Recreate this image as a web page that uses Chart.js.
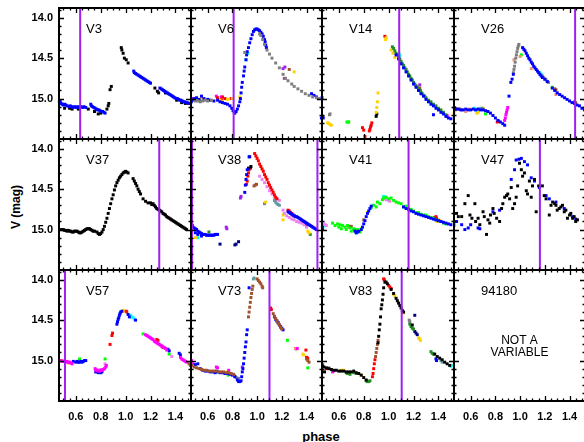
<!DOCTYPE html>
<html>
<head>
<meta charset="utf-8">
<script src="https://cdn.jsdelivr.net/npm/chart.js@4.4.0/dist/chart.umd.min.js"></script>
<style>
  body { margin: 0; background: #fff; }
  #wrap { position: relative; width: 584px; height: 442px; overflow: hidden; background: #fff;
          font-family: "Liberation Sans", Arial, sans-serif; }
  #wrap canvas { position: absolute; }
  .ax { position: absolute; font-weight: bold; color: #000; white-space: nowrap; }
</style>
</head>
<body>
<div id="wrap">
  <div class="ax" id="ylab" style="font-size:12px;left:16px;top:207px;transform:translate(-50%,-50%) rotate(-90deg);">V (mag)</div>
  <div class="ax" id="xlab" style="font-size:13px;left:321px;top:436px;transform:translate(-50%,-50%);">phase</div>
</div>
<script>
// axes shared by every panel
const xMin = 0.465, xMax = 1.525;
const yMin = 13.88, yMax = 15.5;
const xTickVals = [0.6, 0.8, 1.0, 1.2, 1.4];
const yTickVals = [14.0, 14.5, 15.0];

const panelNames = ['V3', 'V6', 'V14', 'V26', 'V37', 'V38', 'V41', 'V47', 'V57', 'V73', 'V83', '94180'];
const markPhases = [[0.635], [0.81], [1.085], [1.445], [1.27], [0.473, 1.488], [1.16], [1.16], [0.513], [1.10], [1.105], []];

// ---- V3
const v3Blue = [[0.468,15.04],[0.475,15.03],[0.482,15.06],[0.49,15.07],[0.50,15.08],[0.51,15.07],[0.52,15.08],[0.53,15.09],[0.545,15.10],[0.555,15.09],[0.565,15.10],[0.575,15.11],[0.59,15.10],[0.60,15.11],[0.615,15.10],[0.625,15.11],[0.64,15.10],[0.655,15.11],[0.665,15.10],[0.68,15.11],
  [0.72,15.07],[0.725,15.09],[0.735,15.10],[0.745,15.11],[0.755,15.12],[0.765,15.13],[0.775,15.14],[0.785,15.14],[0.795,15.15],[0.805,15.16],[0.815,15.16],[0.825,15.17],[0.835,15.18],
  [1.065,14.66],[1.07,14.68],[1.08,14.69],[1.09,14.70],[1.10,14.71],[1.11,14.72],[1.12,14.73],[1.13,14.74],[1.14,14.75],[1.15,14.76],[1.16,14.77],[1.17,14.78],[1.18,14.79],[1.19,14.80],[1.20,14.81],
  [1.275,14.87],[1.285,14.88],[1.295,14.89],[1.305,14.90],[1.315,14.91],[1.325,14.92],[1.335,14.93],[1.345,14.94],[1.355,14.95],[1.365,14.96],[1.375,14.97],[1.385,14.98],[1.395,14.99],[1.405,15.00],[1.415,15.00],[1.425,15.01],[1.435,15.02],[1.445,15.02],[1.455,15.03],[1.465,15.04],[1.475,15.04],[1.485,15.05],[1.495,15.05],[1.505,15.06],[1.515,15.06]];
const v3Black = [[0.51,15.12],[0.55,15.12],[0.57,15.13],[0.62,15.13],[0.63,15.12],[0.70,15.13],[0.75,15.16],[0.78,15.19],[0.80,15.18],[0.85,15.13],[0.86,15.09],[0.865,15.06],[0.875,14.89],[0.885,14.85],[0.965,14.37],[0.97,14.40],[0.98,14.44],[0.99,14.50],[1.005,14.52],[1.02,14.56],[1.235,14.87],[1.255,14.91],[1.265,14.93],[1.32,14.93],[1.41,15.02],[1.45,15.05],[1.48,15.06]];

// ---- V6
const v6Blue = [[0.468,15.04],[0.475,15.02],[0.49,15.00],[0.51,14.99],[0.53,15.01],[0.55,14.97],[0.57,15.00],[0.60,15.01],[0.62,15.02],[0.65,15.03],[0.68,15.02],[0.70,15.04],[0.72,15.05],[0.74,15.06],[0.76,15.07],[0.78,15.09],[0.795,15.12],[0.805,15.15],[0.815,15.17],[0.82,15.18],[0.83,15.16],[0.84,15.13],[0.85,15.09],[0.86,15.04],[0.865,15.00],[0.87,14.93],[0.875,14.86],[0.88,14.80],[0.89,14.72],[0.895,14.66],[0.90,14.61],[0.91,14.52],[0.915,14.46],[0.92,14.42],[0.93,14.37],[0.94,14.31],[0.95,14.26],[0.96,14.21],[0.97,14.17],[0.98,14.15],[0.99,14.14],[1.00,14.14],[1.01,14.15],[1.02,14.16],[1.03,14.18],[1.04,14.20],[1.05,14.23],[1.06,14.27],[1.065,14.30],[1.07,14.34],[1.075,14.37],[1.44,14.94],[1.46,14.96],[1.48,14.98],[1.52,15.24]];
const v6Gray = [[0.50,15.03],[0.52,15.03],[0.54,15.04],[0.56,15.03],[0.58,15.02],[0.60,15.03],[0.63,15.02],[0.90,14.43],[1.02,14.20],[1.03,14.22],[1.045,14.27],[1.06,14.33],[1.08,14.40],[1.10,14.45],[1.12,14.50],[1.15,14.56],[1.18,14.62],[1.21,14.70],[1.23,14.75],[1.25,14.78],[1.28,14.82],[1.30,14.85],[1.33,14.88],[1.36,14.91],[1.39,14.94],[1.42,14.96],[1.45,14.98],[1.48,14.99],[1.50,15.00]];
const v6Yellow = [[0.51,15.00],[0.55,15.00],[0.57,15.01],[0.70,15.02],[0.72,15.04],[0.76,15.01],[0.80,15.00],[0.86,14.98],[1.30,14.67]];
const v6Red = [[0.68,14.99],[0.71,15.01],[0.72,14.98],[0.74,15.00],[0.79,15.00]];
const v6Magenta = [[0.47,15.00],[0.67,14.97],[0.71,14.98],[1.22,14.75]];
const v6Cyan = [[0.91,14.52],[0.925,14.44]];
const v6Violet = [[1.21,14.63],[1.225,14.61]];
const v6Brown = [[1.26,14.64]];
const v6Green = [[0.55,15.02]];

// ---- V14
const v14Green = [[1.03,14.36],[1.04,14.38],[1.05,14.41],[1.06,14.44],[1.07,14.46],[1.08,14.49],[1.09,14.51],[1.10,14.54],[1.11,14.57],[1.12,14.59],[1.13,14.62],[1.14,14.64],[1.15,14.67],[1.16,14.70],[1.17,14.72],[1.18,14.75],[1.19,14.77],[1.20,14.80],[1.21,14.82],[1.22,14.84],[1.23,14.86],[1.24,14.88],[1.25,14.90],[1.26,14.92],[1.27,14.94],[1.28,14.96],[1.29,14.97],[1.30,14.99],[1.32,15.02],[1.34,15.04],[1.36,15.07],[1.38,15.09],[1.40,15.12],[1.42,15.14],[1.44,15.17],[1.46,15.20]];
const v14Blue = [[0.465,14.99],[0.47,15.22],[0.475,15.24],[1.06,14.46],[1.08,14.51],[1.10,14.57],[1.12,14.62],[1.14,14.67],[1.16,14.72],[1.18,14.77],[1.20,14.82],[1.22,14.86],[1.24,14.90],[1.26,14.94],[1.28,14.97],[1.30,15.01],[1.32,15.04],[1.34,15.07],[1.36,15.09],[1.38,15.12],[1.40,15.14],[1.42,15.17],[1.44,15.19],[1.46,15.22],[1.48,15.24],[1.50,15.25],[1.36,15.20]];
const v14Yellow = [[0.51,15.30],[0.52,15.31],[0.53,15.32],[0.54,15.33],[0.90,15.17],[0.905,15.11],[0.91,15.04],[0.915,14.93],[0.975,14.27],[0.98,14.25],[1.02,14.40],[1.035,14.44],[1.05,14.49]];
const v14Red = [[0.79,15.36],[0.80,15.39],[0.81,15.47],[0.845,15.40],[0.85,15.38],[0.855,15.35],[0.86,15.33],[0.865,15.30],[0.97,14.23]];
const v14Black = [[0.90,15.22],[0.905,15.19]];
const v14Gray = [[0.525,15.20],[0.53,15.19]];
const v14Lime = [[0.665,15.29],[0.675,15.29],[0.68,15.29]];
const v14Cyan = [[1.085,14.45],[1.09,14.47]];
const v14Brown = [[1.245,14.88],[1.25,14.87],[1.255,14.90]];
const v14Violet = [[1.25,14.83]];
const v14Magenta = [[1.465,15.22],[1.47,15.21]];

// ---- V26
const v26Blue = [[0.468,15.12],[0.48,15.13],[0.50,15.13],[0.52,15.14],[0.54,15.14],[0.56,15.13],[0.58,15.14],[0.60,15.14],[0.62,15.13],[0.64,15.14],[0.66,15.13],[0.68,15.14],[0.70,15.14],[0.72,15.15],[0.74,15.16],[0.76,15.18],[0.78,15.21],[0.80,15.24],[0.82,15.27],[0.84,15.29],[0.86,15.31],[0.875,15.33],[0.91,14.97],[0.925,14.80],[0.935,14.76],[0.945,14.70],
  [1.02,14.37],[1.03,14.39],[1.04,14.41],[1.05,14.44],[1.06,14.47],[1.07,14.50],[1.08,14.52],[1.09,14.55],[1.10,14.57],[1.11,14.60],[1.12,14.62],[1.13,14.64],[1.14,14.66],[1.15,14.68],[1.16,14.70],[1.17,14.72],[1.18,14.74],[1.20,14.76],[1.22,14.79],
  [1.26,14.87],[1.28,14.90],[1.30,14.93],[1.32,14.95],[1.34,14.97],[1.36,14.99],[1.38,15.01],[1.40,15.03],[1.42,15.05],[1.44,15.06],[1.46,15.08],[1.48,15.09],[1.50,15.12],[1.52,15.14]];
const v26Gray = [[0.945,14.68],[0.95,14.64],[0.955,14.60],[0.96,14.55],[0.965,14.50],[0.97,14.46],[0.975,14.42],[0.98,14.38],[0.985,14.35],[0.99,14.33],[0.69,15.12],[0.70,15.13],[1.18,14.72],[1.19,14.74],[1.20,14.76],[1.21,14.77],[1.22,14.79],[1.23,14.80]];
const v26Magenta = [[0.875,15.27],[0.88,15.24],[0.885,15.20],[0.89,15.17],[0.895,15.14],[0.90,15.11]];
const v26Brown = [[0.468,15.11],[0.475,15.14],[0.51,15.13],[1.28,14.88],[1.29,14.89],[1.44,15.04],[1.45,15.05],[1.52,15.12]];
const v26Salmon = [[0.53,15.14],[0.56,15.16],[0.59,15.13],[0.95,14.52],[1.00,14.48],[1.09,14.63],[1.29,14.95],[1.30,14.93]];
const v26Cyan = [[0.63,15.12],[0.64,15.14],[0.66,15.13],[0.68,15.12],[1.16,14.68],[1.17,14.70]];
const v26Yellow = [[0.465,15.18],[0.65,15.18],[0.66,15.17],[0.70,15.12]];
const v26Red = [[0.815,15.29],[0.825,15.28]];
const v26Green = [[0.72,15.19],[1.01,14.46],[1.26,14.86]];

// ---- V37
const v37Black = [[0.485,15.00],[0.50,15.00],[0.51,15.01],[0.52,15.01],[0.53,15.02],[0.54,15.01],[0.55,15.02],[0.56,15.02],[0.57,15.03],[0.58,15.03],[0.59,15.02],[0.60,15.02],[0.61,15.02],[0.62,15.03],[0.63,15.04],[0.64,15.04],[0.65,15.03],[0.66,15.02],[0.67,15.01],[0.68,15.00],[0.69,14.99],[0.70,14.99],[0.71,14.99],[0.72,15.00],[0.73,15.01],[0.74,15.02],[0.75,15.02],[0.77,15.03],[0.78,15.05],[0.79,15.06],[0.80,15.05],[0.81,15.03],[0.82,15.00],[0.83,14.96],[0.84,14.91],[0.85,14.86],[0.86,14.80],[0.87,14.74],[0.88,14.68],[0.89,14.62],[0.90,14.57],[0.91,14.51],[0.92,14.46],[0.93,14.42],[0.94,14.39],[0.95,14.36],[0.96,14.34],[0.97,14.32],[0.98,14.30],[0.99,14.29],[1.00,14.28],[1.01,14.29],[1.02,14.30],
  [1.06,14.37],[1.07,14.40],[1.08,14.43],[1.09,14.46],[1.10,14.50],[1.11,14.53],[1.12,14.56],[1.14,14.62],[1.16,14.65],[1.18,14.67],[1.20,14.67],[1.21,14.69],[1.22,14.68],[1.23,14.70],[1.24,14.72],[1.25,14.74],[1.26,14.75],[1.27,14.76],[1.28,14.77],[1.29,14.78],[1.30,14.80],[1.31,14.81],[1.32,14.82],[1.33,14.84],[1.34,14.85],[1.35,14.86],[1.36,14.87],[1.37,14.88],[1.38,14.89],[1.39,14.90],[1.40,14.91],[1.41,14.92],[1.42,14.93],[1.43,14.94],[1.44,14.95],[1.45,14.96],[1.46,14.97],[1.47,14.98],[1.48,14.99],[1.49,15.00]];

// ---- V38
const v38Blue = [[0.47,14.93],[0.475,14.95],[0.48,14.97],[0.49,14.98],[0.50,14.99],[0.51,15.00],[0.52,15.02],[0.53,15.03],[0.54,15.04],[0.55,15.05],[0.56,15.06],[0.57,15.06],[0.58,15.06],[0.59,15.07],[0.60,15.07],[0.61,15.07],[0.62,15.07],[0.63,15.07],[0.64,15.07],[0.65,15.07],[0.66,15.06],[0.67,15.06],[0.68,15.06],[0.50,15.04],[0.52,15.06],[0.55,15.08],
  [0.90,14.54],[0.905,14.45],[0.91,14.38],[0.915,14.32],[0.92,14.26],[0.935,14.10],
  [1.25,14.78],[1.26,14.79],[1.27,14.80],[1.28,14.81],[1.29,14.82],[1.30,14.83],[1.31,14.84],[1.32,14.84],[1.33,14.85],[1.34,14.86],[1.35,14.87],[1.36,14.88],[1.37,14.89],[1.38,14.90],[1.39,14.91],[1.40,14.92],[1.41,14.93],[1.42,14.94],[1.43,14.95],[1.44,14.96],[1.45,14.97],[1.46,14.98],[1.47,14.99],[1.48,15.00]];
const v38Navy = [[0.70,15.18],[0.82,15.19],[0.83,15.18],[0.85,15.15],[0.94,14.10],[0.93,14.24]];
const v38Red = [[0.915,14.44],[0.92,14.40],[0.925,14.34],[0.93,14.30],[0.935,14.26],[0.98,14.06],[0.99,14.09],[1.00,14.12],[1.01,14.15],[1.02,14.19],[1.03,14.22],[1.04,14.25],[1.05,14.28],[1.06,14.32],[1.07,14.35],[1.08,14.38],[1.09,14.42],[1.10,14.45],[1.11,14.48],[1.12,14.51],[1.13,14.54],[1.14,14.57],[1.15,14.60],[1.16,14.62],[1.25,14.76],[1.26,14.77],[1.27,14.79],[1.28,14.80],[1.29,14.82],[1.30,14.83]];
const v38Pink = [[1.02,14.34],[1.04,14.38],[1.06,14.42],[1.08,14.47],[1.10,14.52],[1.12,14.56],[1.14,14.60],[1.16,14.62],[1.18,14.64],[1.21,14.76],[1.22,14.80],[1.24,14.83],[1.26,14.85],[1.28,14.87],[1.30,14.88],[1.32,14.90],[1.34,14.91],[1.36,14.92],[1.38,14.94],[1.40,14.97]];
const v38Violet = [[0.75,14.97],[0.755,14.99],[0.865,14.61],[0.87,14.59]];
const v38Teal = [[1.14,14.64],[1.15,14.66],[1.16,14.68],[1.17,14.69],[1.18,14.70]];
const v38Brown = [[0.975,14.46],[0.985,14.45],[0.995,14.44],[1.39,14.93],[1.40,14.95]];
const v38Yellow = [[0.50,15.10],[1.07,14.66],[1.21,14.82],[1.21,14.88],[1.41,15.02],[1.42,15.04]];
const v38Green = [[0.61,15.03],[1.43,15.06]];
const v38Cyan = [[0.52,15.10]];
const v38Gray = [[1.06,14.68]];
const v38Black = [[0.95,14.22],[0.945,14.24]];

// ---- V41
const v41Lime = [[0.55,14.92],[0.57,14.95],[0.59,14.93],[0.60,14.97],[0.61,14.94],[0.62,14.99],[0.63,14.95],[0.65,14.97],[0.66,15.00],[0.67,14.95],[0.69,14.98],[0.70,15.02],[0.72,14.99],[0.74,15.04],[0.75,15.00],[0.77,15.03],[0.78,14.99],[0.86,14.73],[0.88,14.70],[0.90,14.72],[0.91,14.66],[0.93,14.68],[0.95,14.63],[0.96,14.61],[0.98,14.60],[1.00,14.62],[1.02,14.61],[1.04,14.64],[1.06,14.66],[1.08,14.67],[1.10,14.68],[1.12,14.72],[1.14,14.71],[1.16,14.74],[1.18,14.75],[1.20,14.77],[1.22,14.79],[1.24,14.79],[1.26,14.81],[1.28,14.82],[1.30,14.82],[1.32,14.84],[1.34,14.85],[1.36,14.86],[1.38,14.88],[1.40,14.89],[1.42,14.90],[1.44,14.92],[1.46,14.93]];
const v41Blue = [[0.468,14.97],[0.47,15.00],[0.73,15.02],[0.74,15.04],[0.75,15.03],[0.76,15.02],[0.78,15.00],[0.79,14.97],[0.80,14.93],[0.81,14.89],[0.82,14.84],[0.83,14.80],[0.84,14.77],[0.85,14.74],[0.86,14.71],[1.12,14.72],[1.14,14.74],[1.16,14.75],[1.18,14.77],[1.20,14.78],[1.22,14.80],[1.24,14.81],[1.26,14.82],[1.28,14.83],[1.30,14.84],[1.32,14.85],[1.34,14.86],[1.36,14.87],[1.38,14.88],[1.40,14.89],[1.42,14.90],[1.44,14.91],[1.46,14.92],[1.48,14.93],[1.50,14.94]];
const v41Pink = [[0.48,14.93],[0.49,14.94],[0.50,14.95],[0.97,14.62],[0.98,14.63],[1.00,14.64],[1.01,14.65]];
const v41Cyan = [[0.47,14.94],[0.475,14.96],[0.96,14.59],[0.965,14.61],[0.97,14.60]];
const v41Brown = [[0.68,14.96],[0.69,14.97],[0.70,14.96],[0.80,14.88]];
const v41Teal = [[0.72,15.00],[0.73,15.01],[0.735,15.00]];
const v41Red = [[1.37,14.85],[1.38,14.84],[1.385,14.86]];
const v41Yellow = [[1.39,14.90],[0.83,14.79]];
const v41Orange = [[1.40,14.88],[1.41,14.89]];

// ---- V47
const v47Black = [[0.486,14.80],[0.50,14.84],[0.527,14.84],[0.553,14.68],[0.58,14.58],[0.594,14.82],[0.61,14.86],[0.634,14.68],[0.64,14.90],[0.66,14.86],[0.674,14.94],[0.70,14.78],[0.71,14.84],[0.728,15.06],[0.74,14.88],[0.754,14.92],[0.76,14.82],[0.78,14.74],[0.79,14.80],[0.81,14.86],[0.834,14.90],[0.85,14.74],[0.86,14.68],[0.875,14.60],[0.89,14.58],[0.90,14.56],[0.915,14.62],[0.928,14.48],[0.94,14.74],[0.955,14.68],[0.968,14.60],[0.98,14.46],[0.995,14.18],[1.01,14.26],[1.02,14.34],[1.035,14.30],[1.05,14.52],[1.06,14.56],[1.075,14.40],[1.09,14.60],[1.10,14.46],[1.116,14.38],[1.13,14.78],[1.15,14.46],[1.18,14.46],[1.195,14.58],[1.21,14.62],[1.236,14.82],[1.25,14.70],[1.263,14.66],[1.28,14.68],[1.29,14.70],[1.30,14.76],[1.316,14.74],[1.33,14.72],[1.343,14.70],[1.357,14.78],[1.37,14.76],[1.383,14.86],[1.40,14.82],[1.41,14.80],[1.425,14.86],[1.437,14.84],[1.45,14.90],[1.464,14.88]];
const v47Blue = [[0.486,14.90],[0.527,14.94],[0.553,15.00],[0.58,14.98],[0.60,14.94],[0.66,14.98],[0.674,14.99],[0.78,14.78],[0.834,14.76],[0.928,14.38],[0.955,14.26],[0.968,14.14],[0.99,14.13],[1.01,14.12],[1.035,14.16],[1.06,14.20],[1.09,14.36],[1.116,14.40],[1.156,14.48],[1.21,14.58],[1.236,14.62],[1.29,14.66],[1.357,14.74],[1.424,14.84],[1.45,14.87]];
const v47Cyan = [[0.468,14.92],[0.47,14.95]];

// ---- V57
const v57Magenta = [[0.47,15.00],[0.48,15.00],[0.49,15.01],[0.50,15.01],[0.51,15.01],[0.52,15.02],[0.53,15.01],[0.54,15.02],[0.55,15.02],[0.56,15.03],[0.57,15.04],[0.755,15.10],[0.76,15.12],[0.77,15.12],[0.78,15.13],[0.79,15.13],[0.80,15.12],[0.81,15.12],[0.82,15.11],[0.83,15.10],[0.84,15.08],[0.845,15.06],[1.16,14.68],[1.17,14.69],[1.18,14.70],[1.19,14.71],[1.20,14.72],[1.21,14.73],[1.22,14.74],[1.23,14.76],[1.24,14.77],[1.25,14.78],[1.26,14.79],[1.27,14.80],[1.28,14.81],[1.29,14.82],[1.30,14.83],[1.31,14.84],[1.32,14.85],[1.33,14.87],[1.44,14.96],[1.45,14.98],[1.46,14.99],[1.47,15.00],[1.48,15.01],[1.49,15.02]];
const v57Blue = [[0.58,15.01],[0.60,15.02],[0.61,15.01],[0.62,15.02],[0.63,15.02],[0.64,15.01],[0.65,15.02],[0.66,15.01],[0.67,15.00],[0.68,15.00],[0.76,15.14],[0.78,15.15],[0.80,15.15],[0.81,15.14],[0.93,14.55],[0.935,14.52],[0.94,14.49],[0.945,14.47],[0.95,14.44],[0.955,14.42],[0.96,14.40],[0.97,14.39],[1.02,14.43],[1.03,14.46],[1.08,14.50],[1.34,14.86],[1.35,14.88],[1.43,14.91],[1.44,14.93]];
const v57Pink = [[0.77,15.11],[0.80,15.11],[0.835,15.04],[1.37,14.95]];
const v57Red = [[0.875,14.80],[0.89,14.69],[0.895,14.66],[1.005,14.39],[1.25,14.74],[1.26,14.75]];
const v57Yellow = [[0.98,14.38],[0.985,14.39]];
const v57Cyan = [[1.04,14.44],[1.05,14.46],[1.06,14.47],[1.07,14.49]];
const v57Brown = [[1.01,14.40],[1.29,14.82],[1.30,14.84],[1.51,15.04],[1.52,15.06]];
const v57Lime = [[0.835,14.98],[1.14,14.67],[1.35,14.92],[0.63,14.98]];
const v57Orange = [[0.49,15.00],[0.54,15.03]];

// ---- V73
const v73Brown = [[0.47,15.06],[0.49,15.08],[0.51,15.09],[0.53,15.10],[0.55,15.11],[0.57,15.12],[0.59,15.12],[0.61,15.13],[0.63,15.13],[0.65,15.13],[0.67,15.13],[0.69,15.14],[0.71,15.14],[0.73,15.14],[0.75,15.15],[0.77,15.15],[0.79,15.16],[0.81,15.17],[0.93,14.46],[0.935,14.40],[0.94,14.34],[0.945,14.28],[0.95,14.22],[0.955,14.17],[0.96,14.12],[0.965,14.08],[1.00,13.99],[1.01,14.01],[1.02,14.03],[1.03,14.05],[1.04,14.08],[1.045,14.10],[1.13,14.42],[1.14,14.45],[1.15,14.48],[1.16,14.51],[1.17,14.54],[1.18,14.56],[1.19,14.59],[1.20,14.61],[1.40,14.98],[1.41,15.00],[1.42,15.02]];
const v73Blue = [[0.50,15.05],[0.52,15.04],[0.54,15.10],[0.56,15.12],[0.58,15.13],[0.60,15.13],[0.62,15.14],[0.64,15.14],[0.66,15.15],[0.68,15.14],[0.70,15.15],[0.72,15.15],[0.74,15.16],[0.76,15.16],[0.78,15.17],[0.80,15.18],[0.82,15.20],[0.84,15.24],[0.85,15.26],[0.86,15.26],[0.87,15.25],[0.875,15.20],[0.88,15.14],[0.885,15.10],[0.89,15.04],[0.895,14.97],[0.90,14.90],[0.905,14.83],[0.91,14.77],[0.915,14.68],[0.92,14.62],[0.935,14.10],[1.14,14.46],[1.15,14.49],[1.16,14.51],[1.17,14.53],[1.18,14.56],[1.19,14.58],[1.20,14.60],[1.21,14.62]];
const v73Gray = [[0.82,15.19],[0.83,15.21],[0.84,15.22],[0.85,15.22]];
const v73Teal = [[0.975,13.98],[0.97,13.99]];
const v73Magenta = [[0.47,15.00],[0.48,15.04],[0.67,15.08],[0.68,15.09],[0.77,15.12],[1.325,14.85]];
const v73Cyan = [[0.66,15.14],[0.67,15.13]];
const v73Lime = [[0.765,15.18],[1.245,14.75],[1.41,15.09]];
const v73Yellow = [[0.76,15.14],[1.37,14.92],[1.375,14.93]];
const v73Red = [[1.11,14.35],[1.115,14.37],[1.395,14.87],[1.40,14.96],[1.41,14.97]];
const v73Salmon = [[1.31,14.85],[1.315,14.86]];
const v73Violet = [[0.88,15.08]];

// ---- V83
const v83Black = [[0.47,15.07],[0.48,15.08],[0.50,15.09],[0.52,15.10],[0.54,15.11],[0.56,15.12],[0.58,15.12],[0.60,15.13],[0.62,15.13],[0.64,15.13],[0.66,15.14],[0.68,15.14],[0.70,15.14],[0.72,15.13],[0.74,15.15],[0.76,15.16],[0.78,15.18],[0.80,15.21],[0.82,15.24],[0.485,15.14],
  [0.915,14.78],[0.92,14.70],[0.925,14.62],[0.93,14.55],[0.935,14.46],[0.94,14.36],[0.945,14.31],[0.95,14.25],[0.955,14.18],[0.96,14.10],[0.97,14.03],[0.98,14.03],[0.99,14.05],[1.02,14.12],[1.04,14.17],[1.06,14.23],[1.07,14.26],[1.08,14.29],[1.09,14.32],[1.10,14.35],[1.11,14.38],[1.12,14.40],[1.19,14.56],[1.37,14.92],[1.39,14.95],[1.41,14.97],[1.43,14.99],[1.45,15.02],[1.47,15.04],[1.49,15.06]];
const v83Red = [[0.50,15.10],[0.87,15.20],[0.875,15.16],[0.88,15.10],[0.885,15.04],[0.89,14.99],[0.96,13.99],[0.965,14.00],[1.00,14.07],[1.01,14.09],[1.02,14.11]];
const v83Brown = [[0.47,15.05],[0.895,14.95],[0.90,14.90],[0.905,14.85],[0.91,14.80],[0.915,14.75]];
const v83Yellow = [[0.62,15.12],[0.64,15.12],[0.78,15.18],[1.04,14.18],[1.05,14.20],[1.12,14.41],[1.24,14.72],[1.25,14.73],[1.255,14.75]];
const v83Green = [[0.66,15.15],[0.67,15.16],[0.68,15.16],[0.69,15.17],[0.72,15.15],[0.74,15.16],[0.82,15.25],[0.83,15.26],[0.84,15.26],[0.85,15.25],[1.17,14.55],[1.18,14.58],[1.19,14.60],[1.20,14.61],[1.34,14.89],[1.35,14.91],[1.36,14.92]];
const v83Magenta = [[0.55,15.14],[0.555,15.13]];
const v83Gray = [[0.52,15.09],[1.165,14.50],[1.17,14.52]];
const v83Navy = [[1.21,14.44],[1.21,14.64],[1.22,14.66],[1.23,14.68]];
const v83Blue = [[1.38,14.98],[1.385,15.00]];
const v83Teal = [[1.42,15.00],[1.43,15.02]];
const v83Cyan = [[1.50,15.07],[1.505,15.06]];

const col = {
  blue: '#0000ff', black: '#000000', gray: '#7f7f7f', red: '#ff0000', yellow: '#ffd200',
  magenta: '#ff00ff', cyan: '#00ffff', lime: '#00ff00', green: '#228b22', brown: '#a0522d',
  salmon: '#e9967a', violet: '#a020f0', pink: '#ee82ee', navy: '#000080', teal: '#5f9ea0', orange: '#ffa500'
};
const markColor = '#a020f0';

const panelSets = [
  [[v3Blue, col.blue], [v3Black, col.black]],
  [[v6Gray, col.gray], [v6Blue, col.blue], [v6Yellow, col.yellow], [v6Red, col.red], [v6Magenta, col.magenta], [v6Cyan, col.cyan], [v6Violet, col.violet], [v6Brown, col.brown], [v6Green, col.green]],
  [[v14Blue, col.blue], [v14Green, col.green], [v14Yellow, col.yellow], [v14Red, col.red], [v14Black, col.black], [v14Gray, col.gray], [v14Lime, col.lime], [v14Cyan, col.cyan], [v14Brown, col.brown], [v14Violet, col.violet], [v14Magenta, col.magenta]],
  [[v26Blue, col.blue], [v26Gray, col.gray], [v26Magenta, col.magenta], [v26Brown, col.brown], [v26Salmon, col.salmon], [v26Cyan, col.cyan], [v26Yellow, col.yellow], [v26Red, col.red], [v26Green, col.lime]],
  [[v37Black, col.black]],
  [[v38Blue, col.blue], [v38Navy, col.navy], [v38Red, col.red], [v38Pink, col.pink], [v38Violet, col.violet], [v38Teal, col.teal], [v38Brown, col.brown], [v38Yellow, col.yellow], [v38Green, col.green], [v38Cyan, col.cyan], [v38Gray, col.gray], [v38Black, col.black]],
  [[v41Blue, col.blue], [v41Lime, col.lime], [v41Pink, col.pink], [v41Cyan, col.cyan], [v41Brown, col.brown], [v41Teal, col.teal], [v41Red, col.red], [v41Yellow, col.yellow], [v41Orange, col.orange]],
  [[v47Black, col.black], [v47Blue, col.blue], [v47Cyan, col.cyan]],
  [[v57Magenta, col.magenta], [v57Blue, col.blue], [v57Pink, col.pink], [v57Red, col.red], [v57Yellow, col.yellow], [v57Cyan, col.cyan], [v57Brown, col.brown], [v57Lime, col.lime], [v57Orange, col.orange]],
  [[v73Brown, col.brown], [v73Blue, col.blue], [v73Gray, col.gray], [v73Teal, col.teal], [v73Magenta, col.magenta], [v73Cyan, col.cyan], [v73Lime, col.lime], [v73Yellow, col.yellow], [v73Red, col.red], [v73Salmon, col.salmon], [v73Violet, col.violet]],
  [[v83Black, col.black], [v83Red, col.red], [v83Brown, col.brown], [v83Yellow, col.yellow], [v83Green, col.green], [v83Magenta, col.magenta], [v83Gray, col.gray], [v83Navy, col.navy], [v83Blue, col.blue], [v83Teal, col.teal], [v83Cyan, col.cyan]],
  []
];

// panel grid in page pixels
const colLeft = [59, 191, 322, 454];
const colWidth = [132, 131, 132, 131];
const rowTop = [8, 139, 270];
const rowHeight = 131;

const tickFont = { family: '"Liberation Sans", Arial, sans-serif', size: 11, weight: 'bold' };

// box, inward ticks on all four sides, panel name
const framePlugin = {
  id: 'frame',
  afterDatasetsDraw(chart, args, opts) {
    const { ctx, chartArea: a, scales: { x, y } } = chart;
    ctx.save();
    ctx.strokeStyle = '#000';
    ctx.lineWidth = 1.3;
    ctx.beginPath();
    for (let i = 10; i <= 30; i++) {
      const v = i * 0.05;
      const px = Math.round(x.getPixelForValue(v)) + 0.5;
      if (px < a.left || px > a.right) continue;
      const len = (i % 4 === 0) ? 5 : 2.5;
      ctx.moveTo(px, a.bottom); ctx.lineTo(px, a.bottom - len);
      ctx.moveTo(px, a.top); ctx.lineTo(px, a.top + len);
    }
    for (let i = 139; i <= 154; i++) {
      const v = i / 10;
      const py = Math.round(y.getPixelForValue(v)) + 0.5;
      const len = (i % 5 === 0) ? 5 : 2.5;
      ctx.moveTo(a.left, py); ctx.lineTo(a.left + len, py);
      ctx.moveTo(a.right, py); ctx.lineTo(a.right - len, py);
    }
    ctx.stroke();
    ctx.lineWidth = 2;
    ctx.strokeRect(a.left, a.top, a.right - a.left, a.bottom - a.top);

    ctx.fillStyle = '#000';
    ctx.font = '13px "Liberation Sans", Arial, sans-serif';
    ctx.textBaseline = 'middle';
    ctx.textAlign = 'left';
    ctx.fillText(opts.name, a.left + 27, a.top + 21);
    if (opts.note) {
      ctx.font = '12px "Liberation Sans", Arial, sans-serif';
      ctx.textAlign = 'center';
      const cx = (a.left + a.right) / 2;
      ctx.fillText(opts.note[0], cx, a.top + 71);
      ctx.fillText(opts.note[1], cx, a.top + 83);
    }
    ctx.restore();
  }
};

const wrap = document.getElementById('wrap');

panelNames.forEach((name, k) => {
  const r = Math.floor(k / 4), c = k % 4;
  const ml = c === 0 ? 59 : 4, mr = 4, mt = 4, mb = r === 2 ? 32 : 4;
  const cv = document.createElement('canvas');
  cv.width = colWidth[c] + ml + mr;
  cv.height = rowHeight + mt + mb;
  cv.style.left = (colLeft[c] - ml) + 'px';
  cv.style.top = (rowTop[r] - mt) + 'px';
  wrap.appendChild(cv);

  const datasets = panelSets[k].map(([pts, color]) => ({
    data: pts.map(p => ({ x: p[0], y: p[1] })),
    backgroundColor: color,
    borderWidth: 0,
    pointStyle: 'rect',
    pointRadius: 2.1,
    clip: 3,
    order: 2
  }));
  markPhases[k].forEach(m => {
    datasets.push({
      type: 'line',
      data: [{ x: m, y: yMin }, { x: m, y: yMax }],
      borderColor: markColor,
      borderWidth: 2,
      pointRadius: 0,
      showLine: true,
      clip: 0,
      order: 1
    });
  });

  new Chart(cv, {
    type: 'scatter',
    data: { datasets },
    options: {
      responsive: false,
      animation: false,
      events: [],
      layout: { padding: { top: mt, right: mr, left: 0, bottom: 0 } },
      plugins: {
        legend: { display: false },
        tooltip: { enabled: false },
        frame: { name, note: name === '94180' ? ['NOT A', 'VARIABLE'] : null }
      },
      scales: {
        x: {
          type: 'linear', min: xMin, max: xMax,
          grid: { display: false, drawTicks: false },
          border: { display: false },
          ticks: { display: r === 2, padding: 9, color: '#000', font: tickFont, maxRotation: 0, autoSkip: false,
                   callback: v => v.toFixed(1) },
          afterBuildTicks: s => { s.ticks = xTickVals.map(v => ({ value: v })); },
          afterFit: s => { s.height = mb; s.paddingLeft = 0; s.paddingRight = 0; }
        },
        y: {
          type: 'linear', reverse: true, min: yMin, max: yMax,
          grid: { display: false, drawTicks: false },
          border: { display: false },
          ticks: { display: c === 0, padding: 6, color: '#000', font: tickFont, autoSkip: false,
                   callback: v => v.toFixed(1) },
          afterBuildTicks: s => { s.ticks = yTickVals.map(v => ({ value: v })); },
          afterFit: s => { s.width = ml; s.paddingTop = 0; s.paddingBottom = 0; }
        }
      }
    },
    plugins: [framePlugin]
  });
});
</script>
</body>
</html>
